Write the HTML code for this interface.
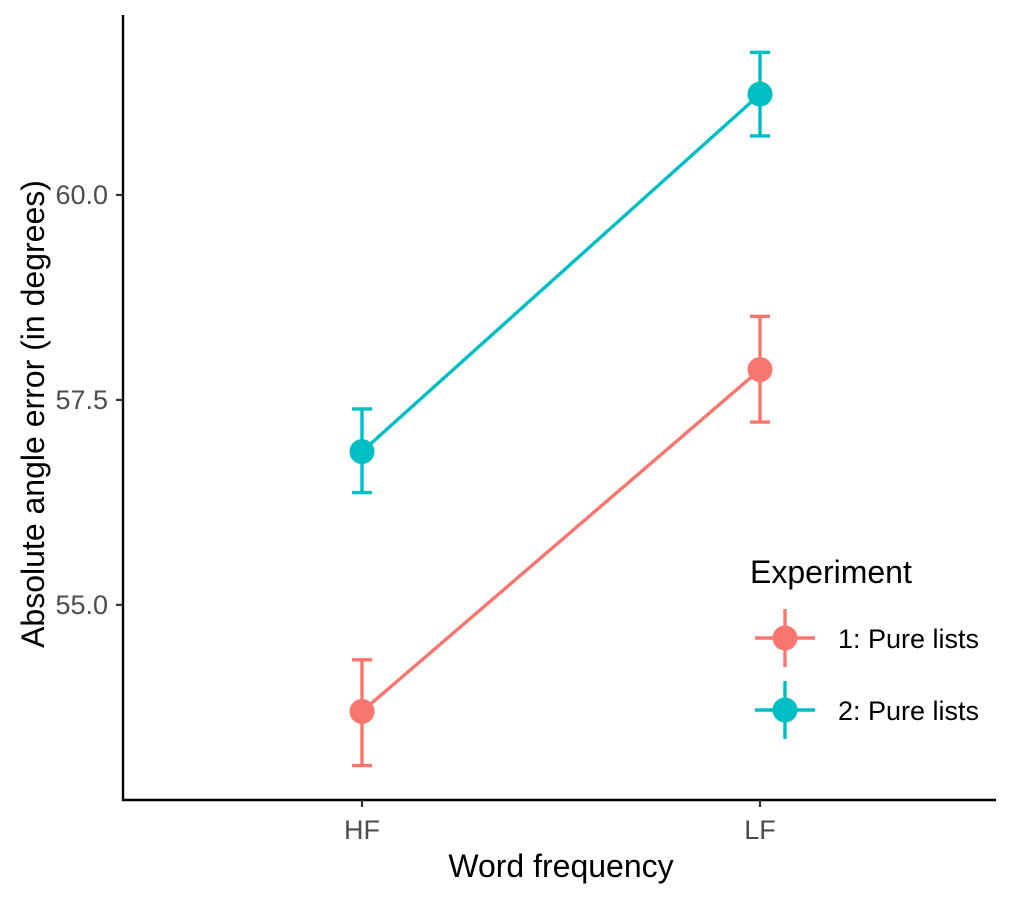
<!DOCTYPE html>
<html><head><meta charset="utf-8"><style>
body{margin:0;background:#fff;}
svg text{font-family:"Liberation Sans",Arial,sans-serif;}
</style></head><body>
<svg id="chart" width="1014" height="900" xmlns="http://www.w3.org/2000/svg"></svg>
<script>
const categories = ["HF","LF"];
const seriesNames = ["1: Pure lists","2: Pure lists"];
const seriesColors = ["#F8766D","#00BFC4"];
const means1 = [53.70, 57.87];
const lower1 = [53.04, 57.23];
const upper1 = [54.33, 58.52];
const means2 = [56.87, 61.23];
const lower2 = [56.37, 60.72];
const upper2 = [57.39, 61.74];
const yTicks = [55.0, 57.5, 60.0];
const yTickLabels = ["55.0","57.5","60.0"];

const NS="http://www.w3.org/2000/svg";
const svg=document.getElementById('chart');
const L=123,R=996,T=15,B=800;
const yMin=52.62,yMax=62.195;
const xPos={HF:362,LF:760};
function y(v){return B-(v-yMin)/(yMax-yMin)*(B-T);}
function x(c){return xPos[c];}
function mk(tag,attrs,text){const e=document.createElementNS(NS,tag);for(const k in attrs)e.setAttribute(k,attrs[k]);if(text!==undefined)e.textContent=text;svg.appendChild(e);return e;}

let e=mk('line',{x1:L,y1:T,x2:L,y2:B+1,stroke:'#000','stroke-width':2.4});


e=mk('line',{x1:L-1,y1:B,x2:R,y2:B,stroke:'#000','stroke-width':2.4});



yTicks.forEach((t,i)=>{
  let tk=mk('line',{x1:L-7,y1:y(t),x2:L,y2:y(t),stroke:'#333','stroke-width':2.2});
  
  
  let lb=mk('text',{x:L-15,y:y(t)+9,'text-anchor':'end','font-size':27,fill:'#4d4d4d'},yTickLabels[i]);
  
  
});
categories.forEach(c=>{
  let tk=mk('line',{x1:x(c),y1:B,x2:x(c),y2:B+7,stroke:'#333','stroke-width':2.2});
  
  
  let lb=mk('text',{x:x(c),y:B+39,'text-anchor':'middle','font-size':27,fill:'#4d4d4d'},c);
  
  
});
e=mk('text',{x:561,y:877,'text-anchor':'middle','font-size':32,fill:'#000'},'Word frequency');


e=mk('text',{x:0,y:0,'text-anchor':'middle','font-size':32,fill:'#000',transform:'translate(44,414) rotate(-90)'},'Absolute angle error (in degrees)');



const series=[[means1,lower1,upper1],[means2,lower2,upper2]];
series.forEach((s,si)=>{
  const col=seriesColors[si];
  const [m,lo,hi]=s;
  let ln=mk('line',{x1:x(categories[0]),y1:y(m[0]),x2:x(categories[1]),y2:y(m[1]),stroke:col,'stroke-width':3.4});
  
  
  categories.forEach((c,i)=>{
    const cx=x(c);
    let eb=mk('path',{d:`M${cx-10},${y(hi[i])}H${cx+10}M${cx},${y(hi[i])}V${y(lo[i])}M${cx-10},${y(lo[i])}H${cx+10}`,stroke:col,'stroke-width':3.4,fill:'none'});
    
    
    let pt=mk('circle',{cx:cx,cy:y(m[i]),r:12.5,fill:col});
    
    
  });
});

e=mk('text',{x:750,y:583,'font-size':32,fill:'#000'},'Experiment');


[638,710].forEach((ly,i)=>{
  const col=seriesColors[i];
  let k=mk('path',{d:`M755,${ly}H815M785,${ly-29}V${ly+29}`,stroke:col,'stroke-width':3.4});
  
  
  let c=mk('circle',{cx:785,cy:ly,r:12.5,fill:col});
  
  
  let t=mk('text',{x:838,y:ly+10,'font-size':27,fill:'#000'},seriesNames[i]);
  
  
});
</script>
</body></html>
